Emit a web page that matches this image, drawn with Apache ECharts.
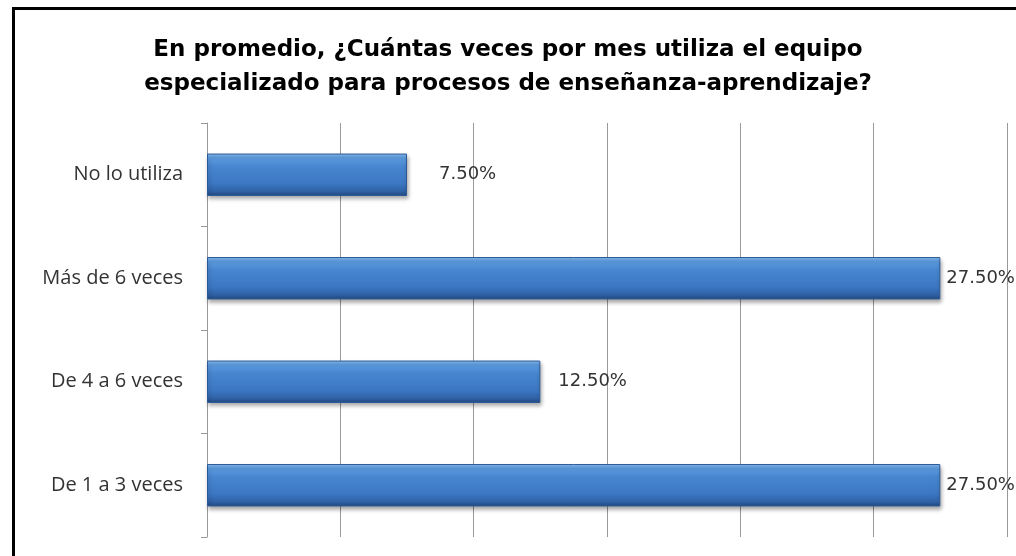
<!DOCTYPE html>
<html>
<head>
<meta charset="utf-8">
<script src="https://cdn.jsdelivr.net/npm/echarts@6/dist/echarts.min.js"></script>
<style>
    html, body { margin: 0; padding: 0; background: #fff; }
    #chart { width: 1016px; height: 556px; }
</style>
</head>
<body>
<div id="chart"></div>
<script>
    // categories, bottom to top
    const categories = ['De 1 a 3 veces', 'De 4 a 6 veces', 'Más de 6 veces', 'No lo utiliza'];
    const percentages = [27.5, 12.5, 27.5, 7.5];
    const titleLines = [
        'En promedio, ¿Cuántas veces por mes utiliza el equipo',
        'especializado para procesos de enseñanza-aprendizaje?'
    ];

    // gap between bar end and its label (Excel placed them unevenly)
    const labelGaps = [6, 18, 6, 32];

    const chart = echarts.init(document.getElementById('chart'));

    let option = {
        animation: false,
        title: {
            text: titleLines.join('\n'),
            left: 'center',
            top: 28,
            textStyle: {
                fontFamily: 'DejaVu Sans',
                fontWeight: 'bold',
                fontSize: 23,
                lineHeight: 34,
                color: '#000'
            }
        },
        graphic: [
            {
                type: 'rect',
                shape: { x: 13.5, y: 8.5, width: 1100, height: 700 },
                style: { fill: 'none', stroke: '#000', lineWidth: 3 },
                silent: true
            }
        ],
        grid: {
            left: 207,
            right: 9,
            top: 123,
            bottom: 19
        },
        xAxis: {
            type: 'value',
            min: 0,
            max: 30,
            interval: 5,
            axisLabel: { show: false },
            axisLine: { show: false },
            axisTick: { show: false },
            splitLine: { lineStyle: { color: '#999', width: 1 } }
        },
        yAxis: {
            type: 'category',
            data: categories,
            axisLine: { lineStyle: { color: '#999' } },
            axisTick: { show: true, length: 6, lineStyle: { color: '#999' } },
            axisLabel: {
                margin: 24,
                fontFamily: 'Open Sans',
                fontSize: 20,
                color: '#333'
            }
        },
        series: [
            {
                type: 'bar',
                barWidth: '41%',
                data: percentages.map((v, i) => ({
                    value: v,
                    label: { distance: labelGaps[i] }
                })),
                itemStyle: {
                    color: new echarts.graphic.LinearGradient(0, 0, 0, 1, [
                        { offset: 0, color: '#8cbdf0' },
                        { offset: 0.1, color: '#5d9de2' },
                        { offset: 0.3, color: '#4886d0' },
                        { offset: 0.7, color: '#3c77c3' },
                        { offset: 0.88, color: '#3063a8' },
                        { offset: 1, color: '#22497f' }
                    ]),
                    borderColor: '#2c5a96',
                    borderWidth: 1,
                    shadowColor: 'rgba(0,0,0,0.35)',
                    shadowBlur: 4,
                    shadowOffsetX: 1,
                    shadowOffsetY: 3
                },
                label: {
                    show: true,
                    position: 'right',
                    fontFamily: 'DejaVu Sans',
                    fontSize: 18,
                    color: '#333',
                    formatter: (p) => p.value.toFixed(2) + '%'
                }
            }
        ]
    };

    chart.setOption(option);
</script>
</body>
</html>
